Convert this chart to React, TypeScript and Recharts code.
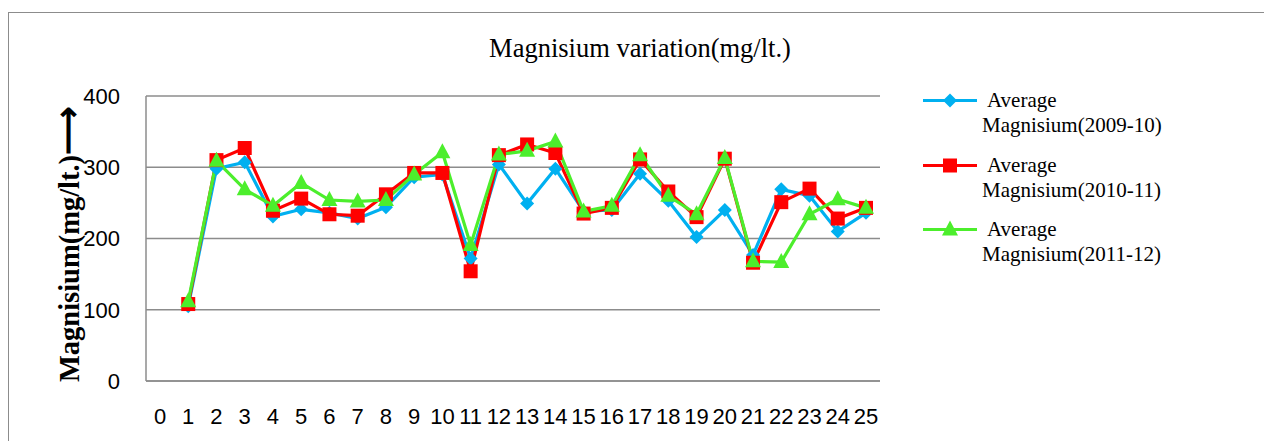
import React from "react";
import { LineChart, Line, XAxis, YAxis, CartesianGrid } from "recharts";

const xLabels = ["0", "1", "2", "3", "4", "5", "6", "7", "8", "9", "10", "11", "12", "13", "14", "15", "16", "17", "18", "19", "20", "21", "22", "23", "24", "25"];

const mg0910 = [null, 105, 298, 307, 231, 241, 236, 228, 244, 286, 290, 172, 304, 249, 298, 238, 240, 291, 253, 202, 240, 177, 269, 260, 210, 236];
const mg1011 = [null, 108, 310, 327, 239, 256, 234, 232, 262, 292, 292, 154, 317, 332, 320, 235, 243, 311, 266, 230, 312, 166, 251, 270, 228, 243];
const mg1112 = [null, 112, 309, 269, 246, 278, 254, 252, 254, 290, 321, 191, 318, 323, 336, 238, 246, 317, 260, 234, 313, 168, 167, 234, 255, 243];

const yTicks = [0, 100, 200, 300, 400];
const seriesNames = ["Magnisium(2009-10)", "Magnisium(2010-11)", "Magnisium(2011-12)"];

const BLUE = "#00b0f0";
const RED = "#ff0000";
const GREEN = "#4cee2c";
const GRID = "#8c8c8c";

const data = xLabels.map((x, i) => ({ x, a: mg0910[i], b: mg1011[i], c: mg1112[i] }));

function diamond(cx: number, cy: number, fill: string, r = 7) {
  return <polygon points={`${cx},${cy - r} ${cx + r},${cy} ${cx},${cy + r} ${cx - r},${cy}`} fill={fill} />;
}
function square(cx: number, cy: number, fill: string, s = 14) {
  return <rect x={cx - s / 2} y={cy - s / 2} width={s} height={s} fill={fill} />;
}
function triangle(cx: number, cy: number, fill: string, w = 16, h = 15) {
  return <polygon points={`${cx},${cy - h * 0.6} ${cx + w / 2},${cy + h * 0.4} ${cx - w / 2},${cy + h * 0.4}`} fill={fill} />;
}

const makeDot = (shape: (cx: number, cy: number, fill: string) => React.ReactElement, fill: string) =>
  (props: any) => {
    const { cx, cy, index, value } = props;
    if (cx == null || cy == null || value == null) return <g key={index} />;
    return <g key={index}>{shape(cx, cy, fill)}</g>;
  };

const legendItems = [
  { color: BLUE, shape: diamond, top: 88 },
  { color: RED, shape: square, top: 153 },
  { color: GREEN, shape: triangle, top: 217 },
];

export default function App() {
  return (
    <div style={{ position: "absolute", left: 0, top: 0, width: 1264, height: 441, overflow: "hidden", background: "#fff" }}>
      <div style={{ position: "absolute", left: 8, top: 12, width: 1256, height: 429, boxSizing: "border-box", borderLeft: `1px solid ${GRID}`, borderTop: `1px solid ${GRID}` }} />
      <div style={{ position: "absolute", left: 440, width: 400, top: 35, textAlign: "center", fontFamily: "Liberation Serif", fontSize: 26.5, lineHeight: "26px", color: "#000" }}>
        Magnisium variation(mg/lt.)
      </div>
      <LineChart width={1264} height={441} data={data} margin={{ top: 96, right: 384, bottom: 10, left: 66 }} style={{ position: "absolute", left: 0, top: 0 }}>
        <CartesianGrid vertical={false} stroke={GRID} strokeWidth={1.5} />
        <XAxis dataKey="x" interval={0} height={50} padding={{ left: 14, right: 14 }} tickLine={false} tickSize={0} tickMargin={27} axisLine={{ stroke: GRID, strokeWidth: 1.5 }} tick={{ fontFamily: "Liberation Sans", fontSize: 22, fill: "#000" }} />
        <YAxis width={80} domain={[0, 400]} ticks={yTicks} tickLine={false} tickSize={0} tickMargin={26} axisLine={{ stroke: GRID, strokeWidth: 1.5 }} tick={{ fontFamily: "Liberation Sans", fontSize: 22, fill: "#000" }}
          label={{
            content: () => (
              <text x={0} y={0} transform="translate(79,244) rotate(-90)" textAnchor="middle" fontFamily="Liberation Serif" fontWeight="bold" fontSize={28.5} fill="#000">
                Magnisium(mg/lt.)<tspan fontSize={34}>⟶</tspan>
              </text>
            ),
          }}
        />
        <Line dataKey="a" stroke={BLUE} strokeWidth={3.2} dot={makeDot(diamond, BLUE)} activeDot={false} isAnimationActive={false} />
        <Line dataKey="b" stroke={RED} strokeWidth={3.2} dot={makeDot(square, RED)} activeDot={false} isAnimationActive={false} />
        <Line dataKey="c" stroke={GREEN} strokeWidth={3.2} dot={makeDot(triangle, GREEN)} activeDot={false} isAnimationActive={false} />
      </LineChart>
      {legendItems.map((item, i) => (
        <div key={i}>
          <svg style={{ position: "absolute", left: 920, top: item.top }} width={60} height={25}>
            <line x1={3} y1={12.5} x2={57} y2={12.5} stroke={item.color} strokeWidth={3} />
            {item.shape(30, 12.5, item.color)}
          </svg>
          <div style={{ position: "absolute", left: 982, top: item.top, fontFamily: "Liberation Serif", fontSize: 21, lineHeight: "24.5px", color: "#000", whiteSpace: "nowrap" }}>
            <div style={{ textIndent: 5 }}>Average</div>
            <div>{seriesNames[i]}</div>
          </div>
        </div>
      ))}
    </div>
  );
}
